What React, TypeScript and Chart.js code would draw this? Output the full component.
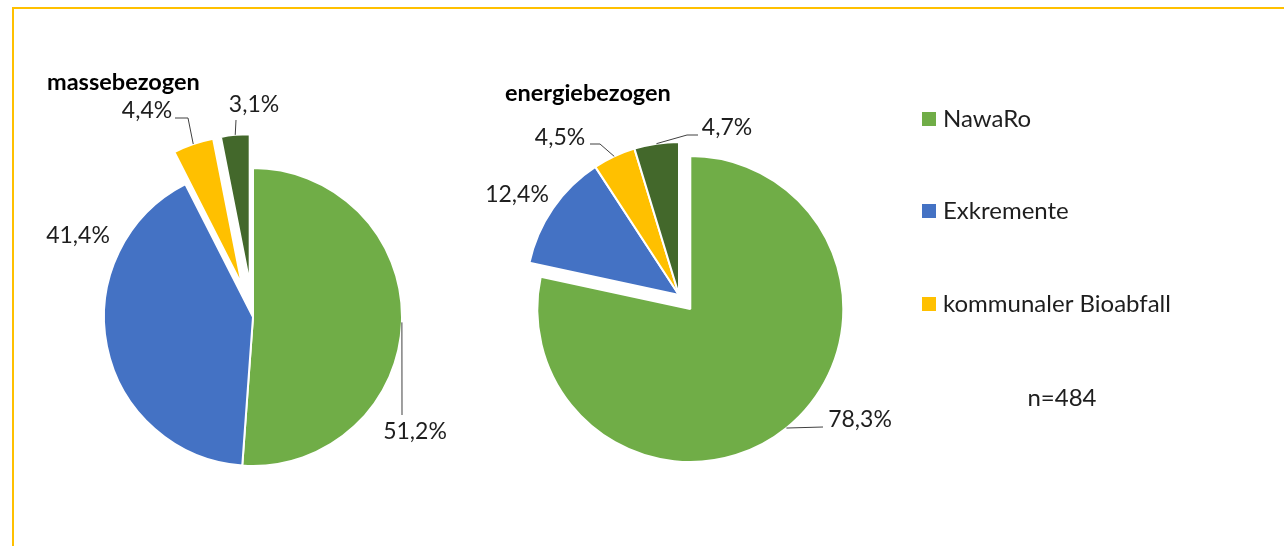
import React, { useEffect, useRef } from "react";
import { Chart, registerables } from "chart.js";

Chart.register(...registerables);

// ---------- data ----------
const categories = ["NawaRo", "Exkremente", "kommunaler Bioabfall", "Sonstige"];
const massValues = [51.2, 41.4, 4.4, 3.1];
const energyValues = [78.3, 12.4, 4.5, 4.7];
const massTitle = "massebezogen";
const energyTitle = "energiebezogen";
const legendCount = 3; // entries shown in the legend
const sampleNote = "n=484";

// ---------- style ----------
const W = 1284;
const H = 546;
const FONT = "Lato, 'Open Sans', 'Noto Sans', sans-serif";
const sliceColors = ["#70AD47", "#4472C4", "#FFC000", "#43682B"];
const textColor = "#1e1e1e";
const leaderColor = "#404040";
const frameColor = "#FFC000";
const labelFontSize = 23;
const legendFontSize = 24;
const titleFontSize = 23.5;

type Pt = [number, number];
type LabelPlace = { at: Pt; leader?: Pt[] };

type PieStyle = {
  center: Pt;
  radius: number;
  explode: number[];
  title: string;
  titlePos: Pt; // left x, middle y
  labels: LabelPlace[]; // relative to pie centre
  legend?: boolean;
};

const massStyle: PieStyle = {
  center: [253, 317],
  radius: 149,
  explode: [0, 0, 34, 34],
  title: massTitle,
  titlePos: [47, 82],
  labels: [
    { at: [162, 115], leader: [[149, 98]] },
    { at: [-175, -81] },
    { at: [-106, -206], leader: [[-65, -199], [-78, -199]] },
    { at: [1, -212], leader: [[-17, -197]] },
  ],
};

const energyStyle: PieStyle = {
  center: [679, 295],
  radius: 153,
  explode: [18, 0, 0, 0],
  title: energyTitle,
  titlePos: [505, 93],
  labels: [
    { at: [181, 125], leader: [[144, 132]] },
    { at: [-162, -100] },
    { at: [-119, -157], leader: [[-79, -151], [-89, -151]] },
    { at: [48, -167], leader: [[8, -160], [19, -160]] },
  ],
  legend: true,
};

const legendStyle = { boxX: 922, textX: 943, ys: [119, 211, 304], box: 14 };
const notePos: Pt = [1062, 398];

const fmt = (v: number) => v.toFixed(1).replace(".", ",") + "%";

function makeDecor(style: PieStyle, values: number[]) {
  return {
    id: "pieDecor",
    afterDatasetsUpdate(chart: any) {
      const meta = chart.getDatasetMeta(0);
      meta.data.forEach((arc: any, i: number) => {
        const e = style.explode[i] || 0;
        if (!e) return;
        const mid = (arc.startAngle + arc.endAngle) / 2;
        arc.x += Math.cos(mid) * e;
        arc.y += Math.sin(mid) * e;
      });
    },
    afterDatasetsDraw(chart: any) {
      const ctx = chart.ctx as CanvasRenderingContext2D;
      const area = chart.chartArea;
      const cx = (area.left + area.right) / 2;
      const cy = (area.top + area.bottom) / 2;
      const meta = chart.getDatasetMeta(0);
      ctx.save();
      // data labels + leader lines
      ctx.font = `${labelFontSize}px ${FONT}`;
      ctx.fillStyle = textColor;
      ctx.textAlign = "center";
      ctx.textBaseline = "middle";
      meta.data.forEach((arc: any, i: number) => {
        const place = style.labels[i];
        if (!place) return;
        if (place.leader && place.leader.length) {
          const mid = (arc.startAngle + arc.endAngle) / 2;
          const rx = arc.x + Math.cos(mid) * arc.outerRadius;
          const ry = arc.y + Math.sin(mid) * arc.outerRadius;
          ctx.beginPath();
          ctx.strokeStyle = leaderColor;
          ctx.lineWidth = 1;
          ctx.moveTo(rx, ry);
          place.leader.forEach((p) => ctx.lineTo(cx + p[0], cy + p[1]));
          ctx.stroke();
        }
        ctx.fillText(fmt(values[i]), cx + place.at[0], cy + place.at[1]);
      });
      // title
      ctx.font = `bold ${titleFontSize}px ${FONT}`;
      ctx.fillStyle = "#000000";
      ctx.textAlign = "left";
      ctx.fillText(style.title, style.titlePos[0], style.titlePos[1]);
      // legend
      if (style.legend) {
        ctx.font = `${legendFontSize}px ${FONT}`;
        for (let i = 0; i < legendCount; i++) {
          const y = legendStyle.ys[i];
          ctx.fillStyle = sliceColors[i];
          ctx.fillRect(legendStyle.boxX, y - legendStyle.box / 2, legendStyle.box, legendStyle.box);
          ctx.fillStyle = textColor;
          ctx.fillText(categories[i], legendStyle.textX, y);
        }
        ctx.textAlign = "center";
        ctx.fillText(sampleNote, notePos[0], notePos[1]);
      }
      ctx.restore();
    },
  };
}

function PieCanvas({ style, values }: { style: PieStyle; values: number[] }) {
  const ref = useRef<HTMLCanvasElement | null>(null);
  useEffect(() => {
    if (!ref.current) return;
    const [cx, cy] = style.center;
    // place the chart area so that its centre is the pie centre
    const padLeft = Math.max(0, 2 * cx - W);
    const padRight = Math.max(0, W - 2 * cx);
    const padTop = Math.max(0, 2 * cy - H);
    const padBottom = Math.max(0, H - 2 * cy);
    const chart = new Chart(ref.current, {
      type: "pie",
      data: {
        labels: categories,
        datasets: [
          {
            data: values,
            backgroundColor: sliceColors,
            borderColor: "#ffffff",
            borderWidth: 2,
          },
        ],
      },
      options: {
        responsive: false,
        animation: false,
        events: [],
        radius: style.radius,
        layout: { padding: { left: padLeft, right: padRight, top: padTop, bottom: padBottom } },
        plugins: {
          legend: { display: false },
          tooltip: { enabled: false },
          title: { display: false },
        },
      } as any,
      plugins: [makeDecor(style, values) as any],
    });
    return () => chart.destroy();
  }, [style, values]);
  return (
    <canvas
      ref={ref}
      width={W}
      height={H}
      style={{ position: "absolute", left: 0, top: 0, width: W, height: H }}
    />
  );
}

export default function App() {
  return (
    <div
      style={{
        position: "fixed",
        left: 0,
        top: 0,
        width: W,
        height: H,
        overflow: "hidden",
        background: "#ffffff",
      }}
    >
      <div
        style={{
          position: "absolute",
          left: 12,
          top: 7,
          width: W + 20,
          height: H + 20,
          borderTop: `2px solid ${frameColor}`,
          borderLeft: `2px solid ${frameColor}`,
          boxSizing: "border-box",
        }}
      />
      <PieCanvas style={massStyle} values={massValues} />
      <PieCanvas style={energyStyle} values={energyValues} />
    </div>
  );
}
